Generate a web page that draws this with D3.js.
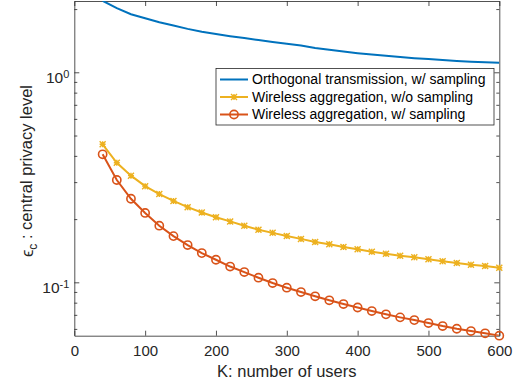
<!DOCTYPE html>
<html>
<head>
<meta charset="utf-8">
<script src="https://cdn.jsdelivr.net/npm/d3@7"></script>
<style>
  html, body { margin: 0; padding: 0; background: #fff; }
  svg { display: block; font-family: "Liberation Sans", Arial, Helvetica, sans-serif; }
</style>
</head>
<body>
<div id="chart"></div>
<script>
// number of users K
const users = [40, 60, 80, 100, 120, 140, 160, 180, 200, 220, 240, 260, 280, 300, 320,
               340, 360, 380, 400, 420, 440, 460, 480, 500, 520, 540, 560, 580, 600];

// central privacy level
const orthoSampling = [2.19, 2.02, 1.89, 1.81, 1.73, 1.67, 1.61, 1.56, 1.52, 1.485, 1.455, 1.425, 1.395, 1.367, 1.34,
                       1.305, 1.28, 1.255, 1.233, 1.215, 1.198, 1.182, 1.168, 1.156, 1.144, 1.133, 1.124, 1.117, 1.111];
const wirelessNoSampling = [0.454, 0.371, 0.322, 0.287, 0.263, 0.244, 0.228, 0.215, 0.204, 0.195, 0.186, 0.178, 0.172, 0.166, 0.161,
                            0.1555, 0.1517, 0.1473, 0.1438, 0.1398, 0.1368, 0.1338, 0.1315, 0.1287, 0.1259, 0.1236, 0.1213, 0.1196, 0.1174];
const wirelessSampling = [0.407, 0.307, 0.250, 0.214, 0.186, 0.166, 0.1505, 0.1378, 0.1281, 0.1189, 0.1119, 0.1052, 0.0992, 0.0943, 0.0899,
                          0.0858, 0.0821, 0.0788, 0.0759, 0.0730, 0.0704, 0.0681, 0.0661, 0.0640, 0.0619, 0.0601, 0.0586, 0.0572, 0.0557];

const xTicks = [0, 100, 200, 300, 400, 500, 600];
const yTicks = [0.1, 1];
const yMinor = [0.06, 0.07, 0.08, 0.09, 0.2, 0.3, 0.4, 0.5, 0.6, 0.7, 0.8, 0.9, 2];

const series = [
  { name: "Orthogonal transmission, w/ sampling", values: orthoSampling, color: "#0072BD", marker: null },
  { name: "Wireless aggregation, w/o sampling", values: wirelessNoSampling, color: "#EDB120", marker: "star" },
  { name: "Wireless aggregation, w/ sampling", values: wirelessSampling, color: "#D95319", marker: "circle" }
];

const width = 518, height = 386;
const plotLeft = 74.3, plotRight = 499.3, plotTop = 1, plotBottom = 335.7;
const axisColor = "#262626";

const x = d3.scaleLinear().domain([0, 600]).range([plotLeft, plotRight]);
const y = d3.scaleLog().domain([0.0557, 2.185]).range([plotBottom, plotTop]);

const svg = d3.select("#chart").append("svg")
    .attr("width", width)
    .attr("height", height);

svg.append("defs").append("clipPath").attr("id", "plotclip")
  .append("rect")
    .attr("x", plotLeft).attr("y", plotTop)
    .attr("width", plotRight - plotLeft).attr("height", plotBottom - plotTop);

// axes with inward ticks on all four sides
const styleAxis = g => {
  g.selectAll("path").attr("stroke", axisColor).attr("stroke-width", 0.8);
  g.selectAll("line").attr("stroke", axisColor).attr("stroke-width", 0.8);
  g.selectAll("text").attr("fill", "#262626").style("font-size", "15px");
};

svg.append("g")
    .attr("transform", `translate(0,${plotBottom})`)
    .call(d3.axisBottom(x).tickValues(xTicks).tickSizeInner(-5).tickSizeOuter(0).tickPadding(10).tickFormat(d3.format("d")))
    .call(styleAxis);

svg.append("g")
    .attr("transform", `translate(0,${plotTop})`)
    .call(d3.axisTop(x).tickValues(xTicks).tickSizeInner(-5).tickSizeOuter(0).tickFormat(""))
    .call(styleAxis);

const yLeft = svg.append("g")
    .attr("transform", `translate(${plotLeft},0)`)
    .call(d3.axisLeft(y).tickValues(yTicks).tickSizeInner(-5).tickSizeOuter(0).tickPadding(5).tickFormat(""))
    .call(styleAxis);

yLeft.selectAll(".tick text")
    .attr("dy", "0.63em")
    .style("font-size", "15.5px")
    .each(function(d) {
      const t = d3.select(this);
      t.append("tspan").text("10");
      t.append("tspan").text(Math.round(Math.log10(d)))
        .attr("dy", "-0.45em")
        .style("font-size", "11px");
    });

svg.append("g")
    .attr("transform", `translate(${plotLeft},0)`)
    .call(d3.axisLeft(y).tickValues(yMinor).tickSizeInner(-3).tickSizeOuter(0).tickFormat(""))
    .call(styleAxis)
    .select(".domain").remove();

svg.append("g")
    .attr("transform", `translate(${plotRight},0)`)
    .call(d3.axisRight(y).tickValues(yTicks).tickSizeInner(-5).tickSizeOuter(0).tickFormat(""))
    .call(styleAxis);

svg.append("g")
    .attr("transform", `translate(${plotRight},0)`)
    .call(d3.axisRight(y).tickValues(yMinor).tickSizeInner(-3).tickSizeOuter(0).tickFormat(""))
    .call(styleAxis)
    .select(".domain").remove();

// axis labels
svg.append("text")
    .attr("x", (plotLeft + plotRight) / 2)
    .attr("y", 377)
    .attr("text-anchor", "middle")
    .attr("fill", "#262626")
    .style("font-size", "16.5px")
    .text("K: number of users");

const yLabel = svg.append("text")
    .attr("transform", `translate(33,171) rotate(-90)`)
    .attr("text-anchor", "middle")
    .attr("fill", "#262626")
    .style("font-size", "16.5px");
yLabel.append("tspan").text("ϵ");
yLabel.append("tspan").text("c").attr("dy", "0.3em").style("font-size", "12px");
yLabel.append("tspan").text(" : central privacy level").attr("dy", "-0.3em").style("font-size", "16.5px");

// lines and markers
const line = d3.line()
    .x((d, i) => x(users[i]))
    .y(d => y(d));

const plot = svg.append("g").attr("clip-path", "url(#plotclip)");

const drawMarker = (g, type, color) => {
  if (type === "circle") {
    g.append("circle").attr("r", 4.1)
      .attr("fill", "none").attr("stroke", color).attr("stroke-width", 1.6);
  } else if (type === "star") {
    const s = 3;
    g.append("path")
      .attr("d", `M${-s},0H${s}M0,${-s}V${s}M${-s},${-s}L${s},${s}M${-s},${s}L${s},${-s}`)
      .attr("stroke", color).attr("stroke-width", 1.4).attr("fill", "none");
  }
};

series.forEach(s => {
  plot.append("path")
      .datum(s.values)
      .attr("fill", "none")
      .attr("stroke", s.color)
      .attr("stroke-width", 2)
      .attr("d", line);
  if (s.marker) {
    svg.append("g").selectAll("g")
      .data(s.values)
      .join("g")
        .attr("transform", (d, i) => `translate(${x(users[i])},${y(d)})`)
        .each(function() { drawMarker(d3.select(this), s.marker, s.color); });
  }
});

// legend
const legend = svg.append("g");
legend.append("rect")
    .attr("x", 216).attr("y", 68.5)
    .attr("width", 278).attr("height", 56.5)
    .attr("fill", "#fff")
    .attr("stroke", axisColor)
    .attr("stroke-width", 0.8);

series.forEach((s, i) => {
  const cy = 79.5 + i * 17.5;
  legend.append("line")
      .attr("x1", 220).attr("x2", 248)
      .attr("y1", cy).attr("y2", cy)
      .attr("stroke", s.color).attr("stroke-width", 2);
  if (s.marker) {
    const g = legend.append("g").attr("transform", `translate(234,${cy})`);
    drawMarker(g, s.marker, s.color);
  }
  legend.append("text")
      .attr("x", 252).attr("y", cy)
      .attr("dy", "0.35em")
      .attr("fill", "#000")
      .style("font-size", "14px")
      .text(s.name);
});
</script>
</body>
</html>
